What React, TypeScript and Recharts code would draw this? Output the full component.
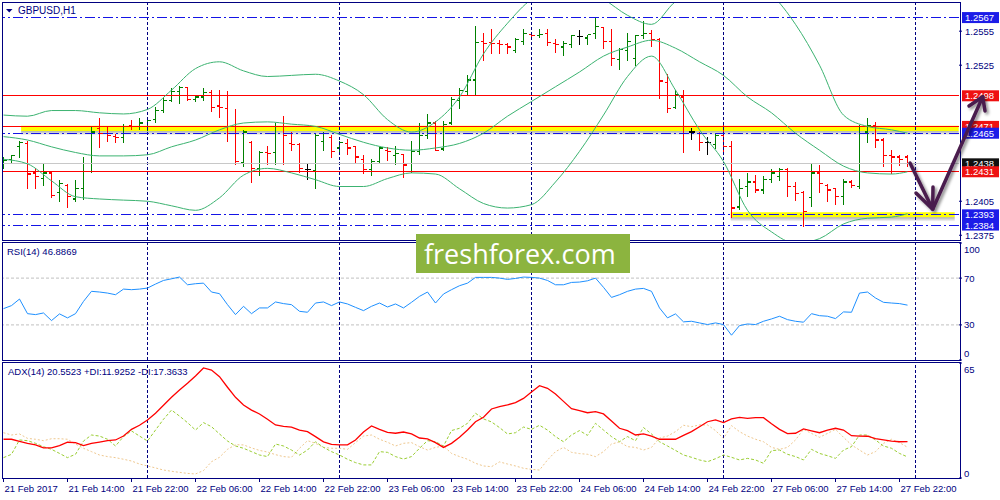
import React from "react";
import {
  ComposedChart,
  XAxis,
  YAxis,
  Bar,
  Line,
  ReferenceLine,
  ReferenceArea,
} from "recharts";

const NAVY = "#000080";
const FONT = '"Liberation Sans", Arial, sans-serif';
const BAND = "#3CB371";
const X_DOMAIN = [-0.0625, 119.4375];

// hourly GBPUSD bars, 21 Feb 06:00 .. 27 Feb 23:00
const opens = [1.2438,1.2442,1.2453,1.2456,1.2430,1.2425,1.2430,1.2413,1.2419,1.2407,
  1.2416,1.2438,1.2469,1.2465,1.2462,1.2461,1.2472,1.2471,1.2471,1.2477,
  1.2485,1.2494,1.2502,1.2505,1.2495,1.2497,1.2501,1.2489,1.2487,1.2465,
  1.2439,1.2457,1.2434,1.2448,1.2448,1.2471,1.2456,1.2455,1.2433,1.2432,
  1.2458,1.2461,1.2452,1.2456,1.2453,1.2442,1.2433,1.2440,1.2450,1.2445,
  1.2446,1.2438,1.2449,1.2463,1.2474,1.2451,1.2474,1.2494,1.2502,1.2512,
  1.2546,1.2545,1.2544,1.2543,1.2538,1.2546,1.2552,1.2551,1.2553,1.2544,
  1.2541,1.2543,1.2550,1.2549,1.2553,1.2558,1.2546,1.2530,1.2538,1.2531,
  1.2551,1.2553,1.2548,1.2510,1.2488,1.2497,1.2466,1.2465,1.2457,1.2455,
  1.2463,1.2453,1.2400,1.2418,1.2422,1.2415,1.2424,1.2427,1.2433,1.2418,
  1.2413,1.2408,1.2430,1.2419,1.2416,1.2409,1.2422,1.2418,1.2466,1.2472,
  1.2459,1.2445,1.2444,1.2444];
const highs = [1.2444,1.2446,1.2458,1.2458,1.2434,1.2438,1.2431,1.2424,1.2420,1.2424,
  1.2444,1.2471,1.2478,1.2471,1.2464,1.2473,1.2477,1.2478,1.2478,1.2488,
  1.2496,1.2505,1.2507,1.2506,1.2499,1.2505,1.2503,1.2503,1.2502,1.2486,
  1.2468,1.2458,1.2449,1.2454,1.2474,1.2480,1.2466,1.2456,1.2438,1.2465,
  1.2466,1.2463,1.2458,1.2460,1.2454,1.2446,1.2442,1.2453,1.2453,1.2454,
  1.2447,1.2458,1.2474,1.2482,1.2476,1.2476,1.2497,1.2505,1.2516,1.2560,
  1.2553,1.2557,1.2547,1.2545,1.2549,1.2557,1.2554,1.2557,1.2557,1.2548,
  1.2546,1.2552,1.2556,1.2552,1.2567,1.2558,1.2557,1.2540,1.2553,1.2552,
  1.2564,1.2556,1.2549,1.2517,1.2503,1.2503,1.2470,1.2466,1.2462,1.2465,
  1.2472,1.2458,1.2425,1.2430,1.2428,1.2427,1.2433,1.2434,1.2434,1.2422,
  1.2414,1.2438,1.2437,1.2420,1.2416,1.2425,1.2424,1.2472,1.2478,1.2475,
  1.2461,1.2450,1.2446,1.2446];
const lows = [1.2434,1.2440,1.2444,1.2417,1.2417,1.2419,1.2409,1.2405,1.2400,1.2405,
  1.2407,1.2431,1.2453,1.2458,1.2457,1.2457,1.2469,1.2469,1.2468,1.2475,
  1.2484,1.2493,1.2492,1.2494,1.2493,1.2494,1.2485,1.2479,1.2458,1.2438,
  1.2436,1.2422,1.2428,1.2438,1.2438,1.2438,1.2450,1.2431,1.2425,1.2417,
  1.2450,1.2444,1.2449,1.2447,1.2439,1.2430,1.2428,1.2439,1.2441,1.2438,
  1.2426,1.2431,1.2447,1.2461,1.2450,1.2450,1.2473,1.2487,1.2499,1.2500,
  1.2530,1.2536,1.2536,1.2536,1.2537,1.2544,1.2549,1.2550,1.2543,1.2537,
  1.2534,1.2541,1.2544,1.2544,1.2549,1.2540,1.2525,1.2522,1.2530,1.2525,
  1.2549,1.2542,1.2496,1.2484,1.2487,1.2448,1.2460,1.2450,1.2447,1.2452,
  1.2447,1.2391,1.2398,1.2410,1.2413,1.2412,1.2422,1.2424,1.2410,1.2406,
  1.2383,1.2401,1.2413,1.2405,1.2403,1.2403,1.2418,1.2417,1.2457,1.2453,
  1.2436,1.2430,1.2437,1.2436];
const closes = [1.2441,1.2445,1.2457,1.2429,1.2427,1.2430,1.2410,1.2421,1.2409,1.2416,
  1.2438,1.2466,1.2465,1.2463,1.2461,1.2471,1.2471,1.2474,1.2476,1.2485,
  1.2494,1.2502,1.2505,1.2495,1.2497,1.2501,1.2488,1.2488,1.2465,1.2440,
  1.2466,1.2434,1.2448,1.2447,1.2471,1.2463,1.2455,1.2434,1.2433,1.2463,
  1.2465,1.2449,1.2457,1.2452,1.2444,1.2433,1.2440,1.2452,1.2449,1.2447,
  1.2437,1.2449,1.2463,1.2474,1.2450,1.2473,1.2495,1.2503,1.2512,1.2545,
  1.2544,1.2544,1.2543,1.2541,1.2548,1.2553,1.2551,1.2552,1.2545,1.2543,
  1.2544,1.2551,1.2550,1.2552,1.2559,1.2546,1.2531,1.2539,1.2546,1.2551,
  1.2553,1.2548,1.2511,1.2487,1.2499,1.2471,1.2466,1.2457,1.2457,1.2463,
  1.2453,1.2399,1.2416,1.2422,1.2415,1.2424,1.2430,1.2433,1.2418,1.2412,
  1.2396,1.2430,1.2421,1.2415,1.2409,1.2422,1.2419,1.2471,1.2472,1.2459,
  1.2445,1.2444,1.2442,1.2438];

// Bollinger bands, read every third bar
const bandIdx = [0,3,6,9,12,15,18,21,24,27,30,33,36,39,42,45,48,51,54,57,60,63,66,69,72,75,78,81,84,87,90,93,96,99,102,105,108,111,113];
const bbUpper = [1.2481,1.2480,1.2485,1.2485,1.2483,1.2482,1.2486,1.2503,1.2522,1.2528,1.2520,1.2515,1.2516,1.2517,1.2511,1.2499,1.2477,1.2466,1.2475,1.2497,1.2535,1.2562,1.2583,1.2591,1.2591,1.2583,1.2569,1.2561,1.2581,1.2588,1.2593,1.2597,1.2587,1.2561,1.2525,1.2481,1.2471,1.2468,1.2465];
const bbMiddle = [1.2462,1.2459,1.2453,1.2448,1.2445,1.2445,1.2446,1.2453,1.2459,1.2468,1.2474,1.2475,1.2473,1.2471,1.2464,1.2457,1.2452,1.2450,1.2452,1.2456,1.2465,1.2480,1.2493,1.2506,1.2519,1.2533,1.2541,1.2547,1.2540,1.2528,1.2516,1.2497,1.2483,1.2465,1.2450,1.2436,1.2430,1.2429,1.2431];
const bbLower = [1.2442,1.2438,1.2423,1.2409,1.2407,1.2406,1.2405,1.2401,1.2397,1.2408,1.2428,1.2434,1.2430,1.2424,1.2418,1.2418,1.2425,1.2430,1.2429,1.2416,1.2403,1.2399,1.2402,1.2422,1.2449,1.2481,1.2515,1.2533,1.2503,1.2468,1.2440,1.2397,1.2378,1.2368,1.2372,1.2385,1.2390,1.2391,1.2394];

const rsiValues = [43.9,46.5,52.1,39.6,38.8,40.2,33.7,39.4,36.0,39.6,
  50.1,58.7,58.1,57.2,55.8,60.6,60.1,60.6,61.5,64.9,
  68.0,69.4,70.9,64.3,65.2,65.7,58.1,56.7,47.3,38.8,
  45.9,39.6,44.5,44.5,49.6,48.2,47.3,41.6,40.8,48.7,
  49.6,46.5,49.6,47.9,45.0,42.2,45.9,48.7,45.3,47.9,
  44.5,49.3,54.4,58.1,48.7,56.4,60.1,63.5,65.7,70.6,
  70.6,70.6,70.0,68.9,69.7,70.9,70.6,70.0,68.0,64.3,
  64.3,66.3,66.6,67.7,70.0,62.1,53.5,55.8,58.7,60.6,
  61.2,58.7,44.5,36.0,39.4,32.6,33.1,31.7,30.3,31.7,
  30.3,21.2,29.4,30.8,30.3,33.1,35.1,37.4,34.5,33.1,
  32.3,39.6,37.9,37.4,35.4,41.1,40.8,57.2,58.1,53.0,
  49.3,48.7,48.2,46.9];

const adxValues = [21.9,21.9,20.7,19.6,18.7,17.0,17.0,18.3,20.2,20.0,
  18.3,19.6,20.3,21.1,21.5,23.7,27.5,29.8,32.8,36.6,
  41.1,45.6,49.7,53.5,57.7,62.2,61.0,57.3,51.3,45.6,
  41.3,38.4,36.2,33.2,30.0,29.2,28.8,27.1,26.2,23.4,
  20.4,19.0,18.7,18.7,21.5,26.0,29.4,27.5,25.8,25.3,
  26.0,24.9,22.6,22.1,20.0,17.3,19.6,23.0,27.1,31.8,
  34.3,39.0,40.3,41.3,42.6,45.0,48.6,52.2,50.7,47.5,
  43.3,39.2,38.1,36.9,37.5,36.2,32.2,28.1,26.8,24.3,
  24.9,23.7,21.9,21.9,21.9,24.1,26.2,29.0,31.8,32.8,
  31.3,33.4,34.3,33.7,34.1,34.1,30.7,27.5,25.1,25.3,
  27.7,26.6,25.6,27.1,28.1,27.1,23.9,23.7,23.6,22.2,
  21.5,20.9,20.5,20.55];
const plusDi = [11.5,13.4,21.5,21.1,19.6,17.7,16.2,13.9,11.5,13.4,
  20.9,24.3,23.7,21.9,18.1,23.4,26.6,23.7,20.9,27.1,
  33.2,38.4,35.0,31.3,27.1,31.3,29.0,24.9,20.9,18.1,
  16.8,14.9,13.0,12.1,19.2,18.1,15.8,13.0,15.8,20.5,
  17.3,14.9,13.0,10.6,8.7,7.4,7.4,14.9,14.5,12.1,
  10.7,12.1,16.8,21.1,20.5,18.1,26.8,28.1,30.9,36.6,
  33.4,31.7,28.5,24.9,25.6,28.8,27.5,29.8,27.1,23.4,
  20.5,24.3,26.8,24.1,30.9,27.1,23.4,20.5,23.4,21.1,
  28.5,24.9,20.5,18.1,15.6,13.0,11.7,10.2,9.2,10.9,
  13.0,11.7,10.2,11.1,10.2,8.3,15.5,15.8,13.4,12.1,
  10.2,16.2,13.9,12.6,11.1,15.8,17.7,24.3,24.3,21.5,
  18.1,16.8,13.9,11.93];
const minusDi = [25.6,24.3,24.9,22.4,21.9,21.1,22.2,22.2,21.9,19.2,
  16.8,14.9,13.0,12.1,11.5,10.6,9.6,7.9,6.8,5.7,
  4.5,3.8,3.2,2.6,2.3,4.2,9.2,11.7,16.2,18.8,
  18.7,17.0,15.6,14.7,13.2,12.1,11.7,16.8,21.1,19.6,
  17.3,16.8,16.8,16.2,20.0,23.7,24.3,21.9,20.2,18.1,
  19.6,20.0,17.7,15.8,17.3,18.1,13.9,12.1,10.6,8.3,
  6.8,6.4,9.1,7.9,6.8,5.5,4.9,4.5,10.2,14.9,
  17.3,14.5,13.8,13.4,12.1,14.9,19.2,20.4,17.7,17.3,
  15.8,17.3,22.6,23.7,26.2,29.8,29.0,30.0,30.0,26.8,
  22.4,29.6,26.2,23.7,21.9,20.5,17.3,16.2,17.3,21.5,
  27.5,25.2,23.0,25.2,27.5,23.0,18.7,15.8,13.0,14.9,
  19.6,21.9,20.0,17.36];

const timeTicks = [0,8,16,24,32,40,48,56,64,72,80,88,96,104,112];
const timeLabels = ["21 Feb 2017","21 Feb 14:00","21 Feb 22:00","22 Feb 06:00","22 Feb 14:00",
  "22 Feb 22:00","23 Feb 06:00","23 Feb 14:00","23 Feb 22:00","24 Feb 06:00",
  "24 Feb 14:00","24 Feb 22:00","27 Feb 06:00","27 Feb 14:00","27 Feb 22:00"];
const dayLines = [18, 42, 66, 90, 114];
const priceTicks = [1.2555, 1.2525, 1.2405, 1.2375];

const rows = opens.map((o, i) => ({
  i,
  o,
  h: highs[i],
  l: lows[i],
  c: closes[i],
  range: [lows[i], highs[i]],
  rsi: rsiValues[i],
  adx: adxValues[i],
  pdi: plusDi[i],
  mdi: minusDi[i],
}));
bandIdx.forEach((b, k) => {
  rows[b].up = bbUpper[k];
  rows[b].mid = bbMiddle[k];
  rows[b].lo = bbLower[k];
});

// eslint-disable-next-line @typescript-eslint/no-explicit-any
const OhlcBar = (props: any) => {
  const { x, y, width, height, payload } = props;
  if (!payload) return null;
  const cx = Math.round(x + width / 2) + 0.5;
  const top = Math.min(y, y + height);
  const bottom = Math.max(y, y + height);
  const span = payload.h - payload.l || 1;
  const yo = top + ((payload.h - payload.o) / span) * (bottom - top);
  const yc = top + ((payload.h - payload.c) / span) * (bottom - top);
  const color =
    payload.c > payload.o ? "#008000" : payload.c < payload.o ? "#FF0000" : "#000000";
  return (
    <g stroke={color} strokeWidth={1.2} shapeRendering="crispEdges">
      <line x1={cx} x2={cx} y1={top} y2={bottom + 1} />
      <line x1={cx - 3} x2={cx} y1={yo} y2={yo} />
      <line x1={cx} x2={cx + 3.5} y1={yc} y2={yc} />
    </g>
  );
};

// eslint-disable-next-line @typescript-eslint/no-explicit-any
const PriceTag = ({ viewBox, text, bg }: any) => {
  if (!viewBox) return null;
  const x = viewBox.x + viewBox.width + 3;
  const y = viewBox.y;
  return (
    <g>
      <rect x={x} y={y - 5.5} width={37} height={11} fill={bg} />
      <text x={x + 3} y={y + 3.5} fill="#ffffff" fontSize={9.5} fontFamily={FONT}>
        {text}
      </text>
    </g>
  );
};

// eslint-disable-next-line @typescript-eslint/no-explicit-any
const SideTick = ({ x, y, payload, nudge }: any) => (
  <text x={x} y={y + 3.5 + (nudge[payload.value] || 0)} fill={NAVY} fontSize={9.5} fontFamily={FONT}>
    {payload.value}
  </text>
);

// eslint-disable-next-line @typescript-eslint/no-explicit-any
const TimeTick = ({ x, y, payload }: any) => (
  <g>
    <line x1={x} x2={x} y1={y} y2={y + 4} stroke={NAVY} />
    <text x={x + 1} y={y + 13.5} fill={NAVY} fontSize={9.5} fontFamily={FONT}>
      {timeLabels[timeTicks.indexOf(payload.value)]}
    </text>
  </g>
);

const dayGrid = (prefix: string) =>
  dayLines.map((d) => (
    <ReferenceLine key={prefix + d} x={d} stroke={NAVY} strokeDasharray="3 2" />
  ));

const levels = [
  { y: 1.2438, stroke: "#C8C8C8", dash: undefined, tag: "#101010" },
  { y: 1.2431, stroke: "#FF0000", dash: undefined, tag: "#EE1111" },
  { y: 1.2498, stroke: "#FF0000", dash: undefined, tag: "#EE1111" },
  { y: 1.2471, stroke: "#FF0000", dash: undefined, tag: "#EE1111" },
  { y: 1.2465, stroke: "#1414E6", dash: "10 3 2 3", tag: "#1C1CE8" },
  { y: 1.2567, stroke: "#1414E6", dash: "10 3 2 3", tag: "#1C1CE8" },
  { y: 1.2393, stroke: "#1414E6", dash: "10 3 2 3", tag: "#1C1CE8" },
  { y: 1.2384, stroke: "#1414E6", dash: "10 3 2 3", tag: "#1C1CE8" },
];

const App = () => {
  return (
    <div
      style={{
        position: "fixed",
        left: 0,
        top: 0,
        width: 1000,
        height: 500,
        background: "#ffffff",
        overflow: "hidden",
        fontFamily: FONT,
      }}
    >
      <div style={{ position: "absolute", left: 0, top: 0 }}>
        <ComposedChart width={1000} height={243} data={rows} margin={{ top: 3, right: 0, bottom: 3, left: 3 }}>
          <defs>
            <linearGradient id="shadeFill" x1="0" y1="0" x2="0" y2="1">
              <stop offset="0%" stopColor="#707070" stopOpacity={0.55} />
              <stop offset="100%" stopColor="#707070" stopOpacity={0} />
            </linearGradient>
          </defs>
          <XAxis dataKey="i" type="number" domain={X_DOMAIN} hide allowDataOverflow />
          <YAxis
            orientation="right"
            width={41}
            domain={[1.237082, 1.257985]}
            allowDataOverflow
            ticks={priceTicks}
            interval={0}
            tickFormatter={(v) => v.toFixed(4)}
            axisLine={false}
            tickLine={{ stroke: NAVY }}
            tickSize={3}
            tickMargin={3}
            tick={{ fill: NAVY, fontSize: 9.5, fontFamily: FONT }}
          />
          <ReferenceArea x1={2.2} x2={119.4} y1={1.2467} y2={1.24715} fill="#FFFF00" fillOpacity={1} stroke="none" />
          <ReferenceArea x1={2.2} x2={119.4} y1={1.2463} y2={1.2467} fill="url(#shadeFill)" fillOpacity={1} stroke="none" />
          <ReferenceArea x1={90.9} x2={118.9} y1={1.23908} y2={1.23952} fill="#FFFF00" fillOpacity={1} stroke="none" />
          <ReferenceArea x1={90.9} x2={118.9} y1={1.2387} y2={1.23908} fill="url(#shadeFill)" fillOpacity={1} stroke="none" />
          {dayGrid("m")}
          {levels.map((lv) => (
            <ReferenceLine
              key={lv.y}
              y={lv.y}
              stroke={lv.stroke}
              strokeWidth={1}
              strokeDasharray={lv.dash}
              shapeRendering="crispEdges"
              label={<PriceTag text={lv.y.toFixed(4)} bg={lv.tag} />}
            />
          ))}
          <Line dataKey="up" stroke={BAND} strokeWidth={1} dot={false} connectNulls type="monotone" isAnimationActive={false} />
          <Line dataKey="mid" stroke={BAND} strokeWidth={1} dot={false} connectNulls type="monotone" isAnimationActive={false} />
          <Line dataKey="lo" stroke={BAND} strokeWidth={1} dot={false} connectNulls type="monotone" isAnimationActive={false} />
          <Bar dataKey="range" barSize={7} shape={<OhlcBar />} isAnimationActive={false} />
        </ComposedChart>
      </div>

      <div style={{ position: "absolute", left: 0, top: 240 }}>
        <ComposedChart width={1000} height={123} data={rows} margin={{ top: 3, right: 0, bottom: 3, left: 3 }}>
          <XAxis dataKey="i" type="number" domain={X_DOMAIN} hide />
          <YAxis
            orientation="right"
            width={41}
            domain={[0, 100]}
            ticks={[0, 30, 70, 100]}
            interval={0}
            axisLine={false}
            tickLine={{ stroke: NAVY }}
            tickSize={3}
            tickMargin={2}
            tick={<SideTick nudge={{ 100: 6, 0: -7 }} />}
          />
          <ReferenceLine y={70} stroke="#C0C0C0" strokeDasharray="3 2" />
          <ReferenceLine y={30} stroke="#C0C0C0" strokeDasharray="3 2" />
          {dayGrid("r")}
          <Line dataKey="rsi" stroke="#1E90FF" strokeWidth={1} dot={false} type="linear" isAnimationActive={false} />
        </ComposedChart>
      </div>

      <div style={{ position: "absolute", left: 0, top: 360 }}>
        <ComposedChart width={1000} height={140} data={rows} margin={{ top: 3, right: 0, bottom: 0, left: 3 }}>
          <XAxis
            dataKey="i"
            type="number"
            domain={X_DOMAIN}
            ticks={timeTicks}
            interval={0}
            height={22}
            axisLine={false}
            tickLine={false}
            tickSize={0}
            tickMargin={0}
            tick={<TimeTick />}
          />
          <YAxis
            orientation="right"
            width={41}
            domain={[0, 65]}
            ticks={[0, 65]}
            interval={0}
            axisLine={false}
            tickLine={{ stroke: NAVY }}
            tickSize={3}
            tickMargin={2}
            tick={<SideTick nudge={{ 65: 6, 0: -5 }} />}
          />
          {dayGrid("a")}
          <Line dataKey="mdi" stroke="#EFC88F" strokeWidth={1} strokeDasharray="2 2" dot={false} type="linear" isAnimationActive={false} />
          <Line dataKey="pdi" stroke="#9ACD32" strokeWidth={1} strokeDasharray="3 2" dot={false} type="linear" isAnimationActive={false} />
          <Line dataKey="adx" stroke="#FF0000" strokeWidth={1.3} dot={false} type="linear" isAnimationActive={false} />
        </ComposedChart>
      </div>

      <svg
        width={1000}
        height={500}
        style={{ position: "absolute", left: 0, top: 0, pointerEvents: "none" }}
      >
        <defs>
          <filter id="arrowShadow" x="-20%" y="-20%" width="140%" height="140%">
            <feDropShadow dx="2" dy="2" stdDeviation="1.5" floodColor="#000" floodOpacity="0.45" />
          </filter>
        </defs>
        <g fill="none" stroke={NAVY} strokeWidth={1}>
          <rect x={2.5} y={2.5} width={958} height={238} />
          <rect x={2.5} y={242.5} width={958} height={118} />
          <rect x={2.5} y={362.5} width={958} height={116} />
        </g>
        <polygon points="6,9 12.5,9 9.25,12.5" fill={NAVY} />
        <text x={18} y={14} fontSize={10} fill={NAVY} fontFamily={FONT}>
          GBPUSD,H1
        </text>
        <text x={7} y={255} fontSize={9.5} fill={NAVY} fontFamily={FONT}>
          RSI(14) 46.8869
        </text>
        <text x={8} y={375} fontSize={9.5} fill={NAVY} fontFamily={FONT}>
          ADX(14) 20.5523 +DI:11.9252 -DI:17.3633
        </text>
        <g
          filter="url(#arrowShadow)"
          stroke="#4A1B4D"
          strokeWidth={3.5}
          strokeLinecap="round"
          strokeLinejoin="round"
          fill="none"
        >
          <polyline points="910,163 932.7,209.3 982.7,96.7" />
          <polyline points="916,193 932.7,209.3 933,187" />
          <polyline points="969,106 982.7,96.7 985,111" />
        </g>
        <rect x={416} y={234} width={214} height={39} fill="#8CB43F" />
        <text x={424} y={264} fontSize={27} fill="#ffffff" fontFamily='"Open Sans", sans-serif'>
          freshforex.com
        </text>
      </svg>
    </div>
  );
};

export default App;
